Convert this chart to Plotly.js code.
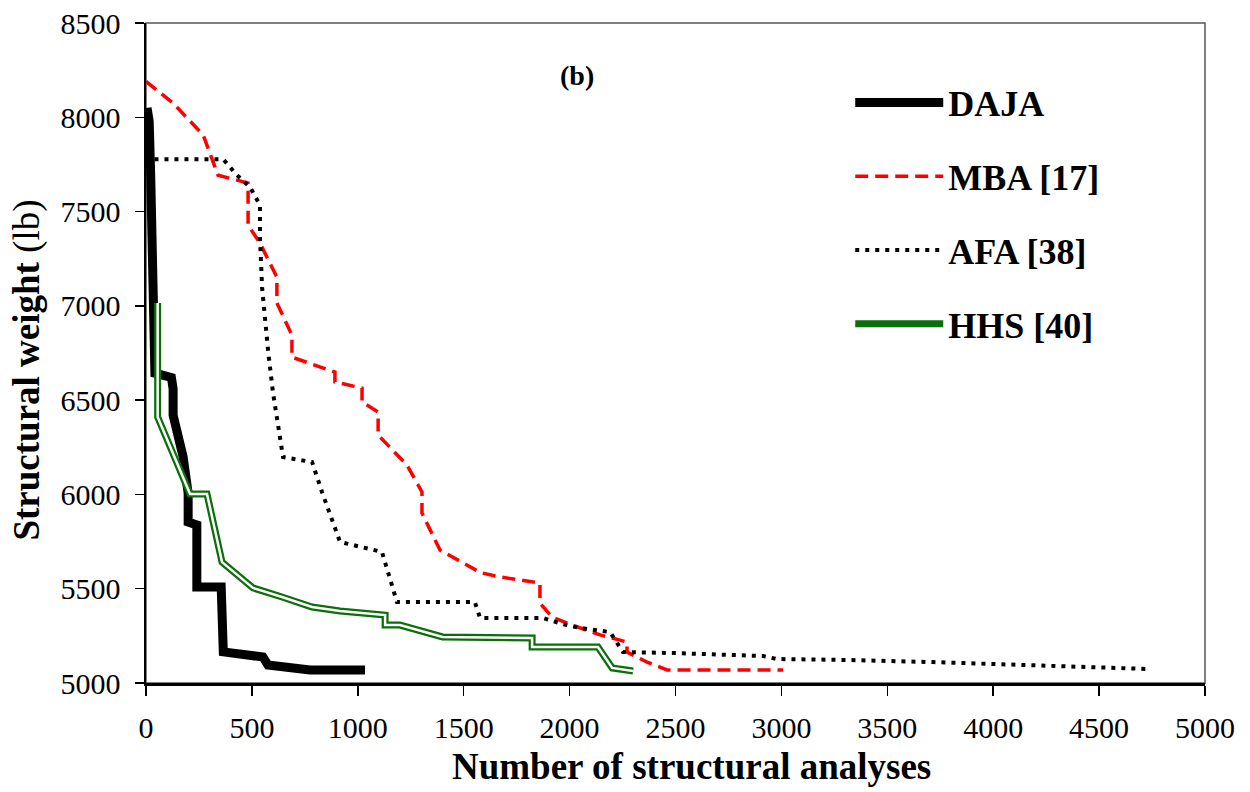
<!DOCTYPE html>
<html>
<head>
<meta charset="utf-8">
<script src="https://cdn.plot.ly/plotly-3.0.1.min.js"></script>
<style>body{margin:0;background:#fff;} #chart{width:1250px;height:792px;}</style>
</head>
<body>
<div id="chart"></div>
<script>
// DAJA
const dajaX = [5, 15, 22, 28, 35, 42, 120, 128, 128, 145, 175, 199, 199, 240, 240, 355, 365, 552, 576, 774, 1034];
const dajaY = [8050, 7980, 7700, 7300, 6900, 6643, 6620, 6560, 6420, 6330, 6200, 6007, 5854, 5838, 5509, 5509, 5165, 5138, 5095, 5069, 5069];
// MBA [17]
const mbaX = [0, 128, 270, 340, 482, 482, 538, 618, 618, 689, 689, 892, 892, 1020, 1020, 1096, 1096, 1232, 1303, 1303, 1388, 1480, 1580, 1672, 1860, 1860, 1917, 2012, 2144, 2271, 2271, 2366, 2460, 3008];
const mbaY = [8190, 8075, 7906, 7693, 7651, 7428, 7333, 7152, 7015, 6845, 6728, 6649, 6596, 6564, 6490, 6437, 6315, 6156, 6013, 5901, 5705, 5650, 5585, 5562, 5530, 5424, 5350, 5307, 5255, 5217, 5164, 5111, 5069, 5069];
// AFA [38]
const afaX = [40, 364, 430, 491, 538, 538, 548, 571, 578, 600, 623, 647, 784, 831, 916, 1114, 1185, 1553, 1577, 1874, 1964, 2049, 2191, 2252, 2489, 2914, 2980, 3324, 3716, 4269, 4741];
const afaY = [7778, 7778, 7693, 7630, 7534, 7365, 7099, 6781, 6745, 6537, 6378, 6198, 6172, 6013, 5748, 5695, 5429, 5429, 5345, 5345, 5313, 5292, 5270, 5164, 5159, 5143, 5127, 5122, 5111, 5090, 5074];
// HHS [40]
const hhsX = [55, 55, 208, 288, 359, 505, 642, 784, 916, 1129, 1129, 1199, 1400, 1823, 1823, 2134, 2201, 2300];
const hhsY = [7015, 6410, 6002, 6002, 5641, 5504, 5456, 5403, 5382, 5360, 5307, 5307, 5244, 5239, 5191, 5191, 5080, 5064];

const names = ['DAJA', 'MBA [17]', 'AFA [38]', 'HHS [40]'];
const xTicks = [0, 500, 1000, 1500, 2000, 2500, 3000, 3500, 4000, 4500, 5000];
const yTicks = [5000, 5500, 6000, 6500, 7000, 7500, 8000, 8500];

const font = 'Liberation Serif, Times New Roman, serif';

const traces = [
  {x: dajaX, y: dajaY, mode: 'lines', name: names[0], legendgroup: 'a',
   line: {color: '#000', width: 9}},
  {x: mbaX, y: mbaY, mode: 'lines', name: names[1], legendgroup: 'b',
   line: {color: '#ff0000', width: 3.5, dash: '13px,7px'}},
  {x: afaX, y: afaY, mode: 'lines', name: names[2], legendgroup: 'c',
   line: {color: '#000', width: 4, dash: '4px,6px'}},
  {x: hhsX, y: hhsY, mode: 'lines', name: names[3], legendgroup: 'd',
   line: {color: '#0b6e0b', width: 7}},
  {x: hhsX, y: hhsY, mode: 'lines', name: names[3], showlegend: false, legendgroup: 'd',
   line: {color: '#ffffff', width: 2.5}, hoverinfo: 'skip'}
];

const layout = {
  width: 1250, height: 792,
  margin: {l: 146, r: 45, t: 23, b: 109},
  paper_bgcolor: '#fff', plot_bgcolor: '#fff',
  font: {family: font, color: '#000'},
  showlegend: true,
  legend: {
    x: 0.665, xanchor: 'left', y: 0.925, yanchor: 'top',
    font: {family: font, size: 36, color: '#000', weight: 'bold'},
    tracegroupgap: 24, itemwidth: 88, bgcolor: 'rgba(0,0,0,0)'
  },
  xaxis: {
    range: [0, 5000], tickvals: xTicks, ticktext: xTicks.map(String),
    showgrid: false, zeroline: false,
    showline: true, linecolor: '#000', linewidth: 2.5,
    ticks: 'outside', ticklen: 10, tickwidth: 1.5, tickcolor: '#000',
    ticklabelstandoff: 6,
    tickfont: {family: font, size: 30, color: '#000'}
  },
  yaxis: {
    range: [5000, 8500], tickvals: yTicks, ticktext: yTicks.map(String),
    showgrid: false, zeroline: false,
    showline: true, linecolor: '#000', linewidth: 2.5,
    ticks: 'outside', ticklen: 9, tickwidth: 1.5, tickcolor: '#000',
    ticklabelstandoff: 8,
    tickfont: {family: font, size: 30, color: '#000'}
  },
  shapes: [
    {type: 'rect', xref: 'paper', yref: 'paper', x0: 0, x1: 1, y0: 0, y1: 1,
     line: {color: '#555', width: 1.5}, layer: 'below'}
  ],
  annotations: [
    {text: '<b>(b)</b>', xref: 'paper', yref: 'paper', x: 0.407, y: 0.921,
     xanchor: 'center', yanchor: 'middle',
     showarrow: false, font: {family: font, size: 28, color: '#000'}},
    {text: '<b>Number of structural analyses</b>', xref: 'paper', yref: 'paper',
     x: 0.515, y: -0.127, xanchor: 'center', yanchor: 'middle',
     showarrow: false, font: {family: font, size: 37, color: '#000'}},
    {text: '<b>Structural weight</b> (lb)', xref: 'paper', yref: 'paper',
     x: -0.112, y: 0.474, xanchor: 'center', yanchor: 'middle', textangle: -90,
     showarrow: false, font: {family: font, size: 37, color: '#000'}}
  ]
};

Plotly.newPlot('chart', traces, layout, {displayModeBar: false, staticPlot: true});
</script>
</body>
</html>
